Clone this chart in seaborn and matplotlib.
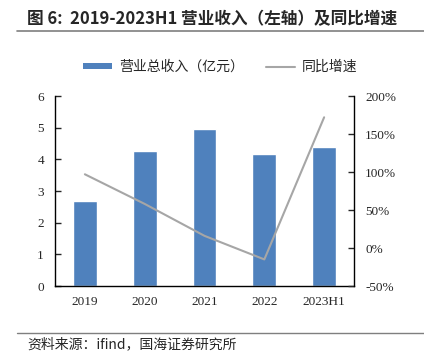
import matplotlib

matplotlib.use("Agg")
import matplotlib.pyplot as plt
import pandas as pd
import seaborn as sns
from matplotlib.lines import Line2D
from matplotlib.patches import Patch

# data
years = ["2019", "2020", "2021", "2022", "2023H1"]
revenue = [2.68, 4.25, 4.95, 4.17, 4.39]  # 亿元
growth = [97, 58, 16, -15, 172]  # %

df = pd.DataFrame({"year": years, "revenue": revenue, "growth": growth})

sns.set_style("white")
cjk = ["Noto Sans CJK SC", "DejaVu Sans"]
serif = ["Liberation Serif", "DejaVu Serif"]
plt.rcParams["font.family"] = cjk

fig = plt.figure(figsize=(4.24, 3.58), dpi=100)
ax = fig.add_axes([0.1297, 0.2011, 0.7053, 0.5307])
ax2 = ax.twinx()

sns.barplot(data=df, x="year", y="revenue", color="#4f81bd", width=0.4,
            saturation=1, ax=ax)
sns.lineplot(data=df, x="year", y="growth", color="#a6a6a6", linewidth=1.5,
             sort=False, ax=ax2)

ax.set_ylim(0, 6)
ax.set_xlim(-0.5, 4.5)
ax2.set_ylim(-50, 200)
ax2.set_yticks([-50, 0, 50, 100, 150, 200])
ax2.set_yticklabels([f"{v}%" for v in [-50, 0, 50, 100, 150, 200]])
ax.set_xlabel("")
ax.set_ylabel("")
ax2.set_xlabel("")
ax2.set_ylabel("")

for a in (ax, ax2):
    a.spines["top"].set_visible(False)
    for s in a.spines.values():
        s.set_color("black")
        s.set_linewidth(1.0)
ax.spines["right"].set_visible(False)
ax2.spines["left"].set_visible(False)
ax2.spines["bottom"].set_visible(False)

ax.tick_params(axis="y", direction="in", length=4, width=1, pad=8,
               labelsize=9.5, left=True)
ax.tick_params(axis="x", length=0, pad=7, labelsize=9.5)
ax2.tick_params(axis="y", direction="in", length=4, width=1, pad=8,
                labelsize=9.5, right=True)
for lab in ax.get_xticklabels() + ax.get_yticklabels() + ax2.get_yticklabels():
    lab.set_family(serif)

handles = [Patch(facecolor="#4f81bd", edgecolor="none"),
           Line2D([0], [0], color="#a6a6a6", lw=1.5)]
fig.legend(handles, ["营业总收入（亿元）", "同比增速"], loc="center",
           bbox_to_anchor=(220 / 424, 1 - 67 / 358), ncol=2, frameon=False,
           fontsize=10, handlelength=2.1, handleheight=0.35,
           columnspacing=1.6, handletextpad=0.5)

fig.text(27 / 424, 1 - 19 / 358, "图 6:  2019-2023H1 营业收入（左轴）及同比增速",
         fontsize=12, fontweight="bold", va="center", ha="left",
         family=["Noto Sans CJK SC", "DejaVu Sans"])
fig.add_artist(Line2D([17 / 424, 1], [1 - 31 / 358] * 2, color="#7f7f7f",
                      lw=1.2, transform=fig.transFigure))
fig.add_artist(Line2D([17 / 424, 1], [1 - 333 / 358] * 2, color="#7f7f7f",
                      lw=1.0, transform=fig.transFigure))
fig.text(27 / 424, 1 - 344 / 358, "资料来源：ifind，国海证券研究所",
         fontsize=10, va="center", ha="left")

fig.savefig("out.png", dpi=100)
